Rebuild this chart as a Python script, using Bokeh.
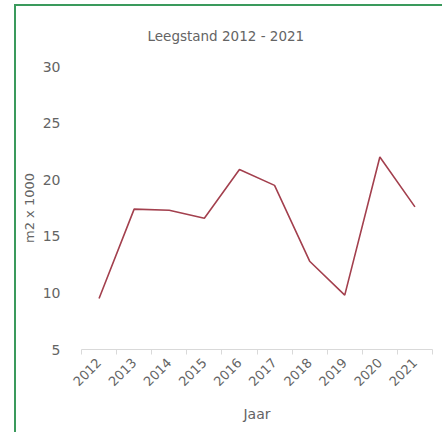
import numpy as np
from bokeh.plotting import figure
from bokeh.models import FixedTicker, Range1d
from bokeh.embed import file_html
from bokeh.resources import INLINE

years = ["2012", "2013", "2014", "2015", "2016", "2017", "2018", "2019", "2020", "2021"]
leegstand = [9.5, 17.4, 17.3, 16.6, 20.9, 19.5, 12.8, 9.8, 22.0, 17.6]
y_ticks = [5, 10, 15, 20, 25, 30]
title_text = "Leegstand 2012 - 2021"

FONT = "DejaVu Sans"
GREY = "#646464"

centers = [i + 0.5 for i in range(len(years))]
bounds = [i for i in range(len(years) + 1)]

p = figure(width=428, height=428, output_backend="svg", toolbar_location=None,
           x_range=Range1d(0, len(years)), y_range=Range1d(5, 30),
           min_border_left=65, min_border_right=12, min_border_top=59, min_border_bottom=85,
           title=title_text)
p.styles = {"border-left": "2px solid #3a9a5c", "border-top": "2px solid #3a9a5c",
            "margin-left": "14px", "margin-top": "4px"}

p.title.align = "left"
p.title.offset = 66
p.title.vertical_align = "top"
p.title.standoff = 42
p.title.text_font = FONT
p.title.text_font_size = "13.5px"
p.title.text_font_style = "normal"
p.title.text_color = GREY

p.line(centers, leegstand, line_color="#a3404e", line_width=1.6)

p.outline_line_color = None
p.background_fill_color = "white"
p.border_fill_color = "white"
p.xgrid.grid_line_color = None
p.ygrid.grid_line_color = None

xa = p.xaxis[0]
xa.ticker = FixedTicker(ticks=centers, minor_ticks=bounds)
xa.major_label_overrides = {c: y for c, y in zip(centers, years)}
xa.major_tick_out = 0
xa.major_tick_in = 0
xa.minor_tick_out = 5
xa.minor_tick_in = 0
xa.minor_tick_line_color = "#d9d9d9"
xa.axis_line_color = "#d9d9d9"
xa.major_label_orientation = np.pi / 4
xa.major_label_text_font = FONT
xa.major_label_text_font_size = "13px"
xa.major_label_text_color = GREY
xa.major_label_standoff = 6
xa.axis_label = "Jaar"
xa.axis_label_text_font = FONT
xa.axis_label_text_font_size = "14px"
xa.axis_label_text_font_style = "normal"
xa.axis_label_text_color = GREY
xa.axis_label_standoff = 13

ya = p.yaxis[0]
ya.ticker = FixedTicker(ticks=y_ticks)
ya.axis_line_color = None
ya.major_tick_line_color = None
ya.minor_tick_line_color = None
ya.major_label_text_font = FONT
ya.major_label_text_font_size = "14px"
ya.major_label_text_color = GREY
ya.major_label_standoff = 15
ya.axis_label = "m2 x 1000"
ya.axis_label_text_font = FONT
ya.axis_label_text_font_size = "13px"
ya.axis_label_text_font_style = "normal"
ya.axis_label_text_color = GREY
ya.axis_label_standoff = 3

open("out.html", "w").write(file_html(p, INLINE))
